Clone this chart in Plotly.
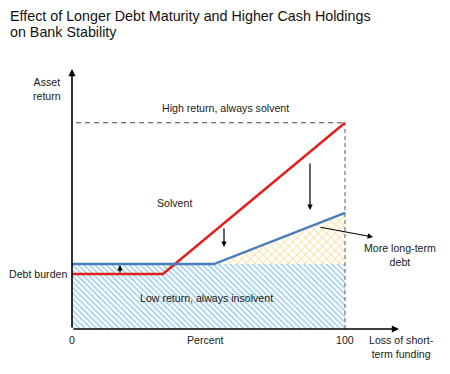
import plotly.graph_objects as go

# ---- data (conceptual diagram values) ----
loss_pct = [0, 33.3, 100]            # red line breakpoints (x)
red_return = [20, 20, 75]            # red line (before)
blue_x = [0, 52, 100]                # blue line breakpoints (x)
blue_return = [23.6, 23.6, 42.2]     # blue line (after)
high_return = 75
debt_burden = 20
x_ticks = [0, 100]
x_tick_labels = ["0", "100"]
title_lines = ["Effect of Longer Debt Maturity and Higher Cash Holdings", "on Bank Stability"]

W, H = 450, 374
X0P, X100P = 72, 345        # pixel of x=0 and x=100
Y0P, SY = 329, 2.75          # pixel of y=0, px per unit
SX = (X100P - X0P) / 100.0

def dx(p):
    return (p - X0P) / SX

def dy(p):
    return (Y0P - p) / SY

fig = go.Figure()

# blue hatched region (low return, always insolvent)
fig.add_trace(go.Scatter(
    x=[0, 100, 100, 0, 0], y=[0, 0, blue_return[0], blue_return[0], 0],
    mode="lines", line=dict(width=0), fill="toself", fillcolor="rgba(0,0,0,0)",
    fillpattern=dict(shape="\\", fgcolor="#3f9fd2", bgcolor="white", size=4, solidity=0.4),
    hoverinfo="skip", showlegend=False))

# yellow cross-hatched region
fig.add_trace(go.Scatter(
    x=[blue_x[1], blue_x[2], blue_x[2], blue_x[1]],
    y=[blue_return[1], blue_return[2], blue_return[1], blue_return[1]],
    mode="lines", line=dict(width=0), fill="toself", fillcolor="rgba(0,0,0,0)",
    fillpattern=dict(shape="x", fgcolor="#f0c850", bgcolor="white", size=6, solidity=0.3),
    hoverinfo="skip", showlegend=False))

# dashed lines
fig.add_trace(go.Scatter(x=[1.5, 100], y=[high_return, high_return], mode="lines",
                         line=dict(color="#444444", width=1.2, dash="5px,4px"),
                         hoverinfo="skip", showlegend=False))
fig.add_trace(go.Scatter(x=[100, 100], y=[0, high_return], mode="lines",
                         line=dict(color="#777777", width=1.2, dash="4px,3px"),
                         hoverinfo="skip", showlegend=False))

# red and blue lines
fig.add_trace(go.Scatter(x=loss_pct, y=red_return, mode="lines",
                         line=dict(color="#e3201c", width=2.5),
                         hoverinfo="skip", showlegend=False))
fig.add_trace(go.Scatter(x=blue_x, y=blue_return, mode="lines",
                         line=dict(color="#4a7ebb", width=2.5),
                         hoverinfo="skip", showlegend=False))

ann = []

def arrow(x0, y0, x1, y1, width=1.2, size=1.0):
    ann.append(dict(x=x1, y=y1, ax=x0, ay=y0, xref="x", yref="y", axref="x", ayref="y",
                    text="", showarrow=True, arrowhead=2, arrowsize=size,
                    arrowwidth=width, arrowcolor="black"))

# axes
arrow(0, 0, 0, dy(69), width=1.6, size=0.9)
arrow(0, 0, dx(399), 0, width=1.6, size=0.9)
# movement arrows
arrow(dx(120), dy(274), dx(120), dy(265), width=1.2, size=0.9)
arrow(dx(224), dy(227), dx(224), dy(247), width=1.2, size=0.9)
arrow(dx(310), dy(162), dx(310), dy(210), width=1.2, size=0.9)
arrow(dx(319), dy(227), dx(373), dy(237), width=1.2, size=0.9)

FONT = "Liberation Sans, Arial, sans-serif"

def text(xp, yp, s, size=10.6, xanchor="center", align="center", color="#1a1a1a"):
    ann.append(dict(x=dx(xp), y=dy(yp), xref="x", yref="y", text=s, showarrow=False,
                    xanchor=xanchor, yanchor="middle", align=align,
                    font=dict(family=FONT, size=size, color=color)))

text(225, 108, "High return, always solvent")
text(174, 203, "Solvent")
text(206, 298, "Low return, always insolvent")
text(69, 274, "Debt burden", xanchor="right", align="right")
text(47, 89, "Asset<br>return")
text(205, 340, "Percent")
for xv, lab in zip(x_ticks, x_tick_labels):
    text(X0P + xv * SX, 340, lab)
text(401, 347, "Loss of short-<br>term funding")
text(400, 255, "More long-term<br>debt")

# title (two lines, tight spacing)
for i, line in enumerate(title_lines):
    text(8, 15.5 + 16 * i, line, size=14.3, xanchor="left", align="left", color="#111111")

fig.update_layout(
    width=W, height=H, margin=dict(l=0, r=0, t=0, b=0),
    paper_bgcolor="white", plot_bgcolor="white",
    xaxis=dict(range=[dx(0), dx(W)], visible=False, fixedrange=True),
    yaxis=dict(range=[dy(H), dy(0)], visible=False, fixedrange=True),
    annotations=ann, showlegend=False,
)

fig.write_html("out.html", config={"displayModeBar": False},
               post_script="document.body.style.margin='0';")
